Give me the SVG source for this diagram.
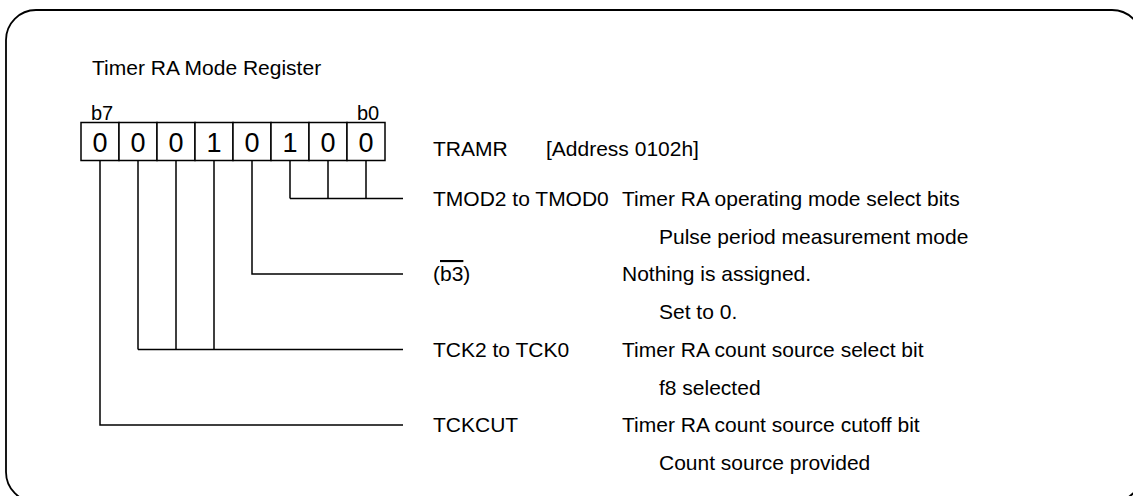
<svg xmlns="http://www.w3.org/2000/svg" width="1133" height="496" viewBox="0 0 1133 496">
<style>
text{font-family:"Liberation Sans",Arial,sans-serif;font-size:21px;fill:#000}
.bit{font-size:27px;text-anchor:middle}
.lbl{font-size:20px}
.cell{fill:#fff;stroke:#000;stroke-width:1.5}
.ln{fill:none;stroke:#000;stroke-width:1.5}
</style>
<rect x="6" y="10" width="1136" height="492" rx="30" ry="30" fill="none" stroke="#000" stroke-width="1.8"/>
<g id="title"><text x="92" y="75">Timer RA Mode Register</text></g>
<g id="register">
<text class="lbl" x="91" y="120">b7</text>
<text class="lbl" x="357" y="120">b0</text>
<rect class="cell" x="81" y="122.5" width="38" height="38"/>
<rect class="cell" x="119" y="122.5" width="38" height="38"/>
<rect class="cell" x="157" y="122.5" width="38" height="38"/>
<rect class="cell" x="195" y="122.5" width="38" height="38"/>
<rect class="cell" x="233" y="122.5" width="38" height="38"/>
<rect class="cell" x="271" y="122.5" width="38" height="38"/>
<rect class="cell" x="309" y="122.5" width="38" height="38"/>
<rect class="cell" x="347" y="122.5" width="38" height="38"/>
<text class="bit" x="100" y="151.5">0</text>
<text class="bit" x="138" y="151.5">0</text>
<text class="bit" x="176" y="151.5">0</text>
<text class="bit" x="214" y="151.5">1</text>
<text class="bit" x="252" y="151.5">0</text>
<text class="bit" x="290" y="151.5">1</text>
<text class="bit" x="328" y="151.5">0</text>
<text class="bit" x="366" y="151.5">0</text>
<text x="433" y="156">TRAMR</text>
<text x="546" y="156">[Address 0102h]</text>
</g>
<g id="connectors">
<path class="ln" d="M290 160.5V198.5M328 160.5V198.5M366 160.5V198.5M290 198.5H403"/>
<path class="ln" d="M252 160.5V274H403"/>
<path class="ln" d="M138 160.5V349.5M176 160.5V349.5M214 160.5V349.5M138 349.5H403"/>
<path class="ln" d="M100 160.5V425H403"/>
</g>
<g id="tmod">
<text x="433" y="206">TMOD2 to TMOD0</text>
<text x="622" y="206">Timer RA operating mode select bits</text>
<text x="659" y="244">Pulse period measurement mode</text>
</g>
<g id="b3">
<text x="433" y="281">(<tspan text-decoration="overline">b3</tspan>)</text>
<text x="622" y="281">Nothing is assigned.</text>
<text x="659" y="319">Set to 0.</text>
</g>
<g id="tck">
<text x="433" y="357">TCK2 to TCK0</text>
<text x="622" y="357">Timer RA count source select bit</text>
<text x="659" y="395">f8 selected</text>
</g>
<g id="tckcut">
<text x="433" y="432">TCKCUT</text>
<text x="622" y="432">Timer RA count source cutoff bit</text>
<text x="659" y="470">Count source provided</text>
</g>
</svg>
